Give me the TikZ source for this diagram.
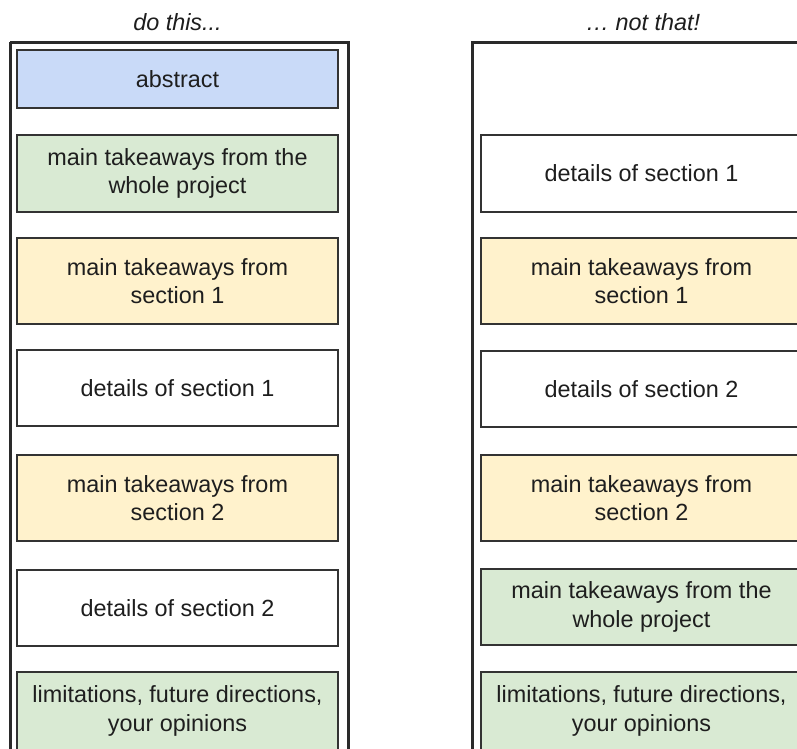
\documentclass[tikz,border=0pt]{standalone}
\usepackage{fontspec}
\setmainfont{Liberation Sans}
\definecolor{blueF}{HTML}{C9DAF8}
\definecolor{greenF}{HTML}{D9EAD3}
\definecolor{yellowF}{HTML}{FFF2CC}
\definecolor{lineC}{HTML}{333333}
\definecolor{frameC}{HTML}{2A2A2A}
\definecolor{txtC}{HTML}{1E1E1E}
\begin{document}
\begin{tikzpicture}[x=1pt,y=-1pt,
  box/.style={draw=lineC, line width=1.5pt, rectangle, minimum width=321pt, inner sep=0pt, align=center, text=txtC, font=\fontsize{23.4}{28.5}\selectfont},
  frame/.style={draw=frameC, line width=3pt},
  title/.style={font=\fontsize{23.4}{28}\selectfont\itshape, text=txtC, inner sep=0pt}]
\useasboundingbox (0,0) rectangle (797,748);
\clip (0,0) rectangle (797,748);
\fill[white] (0,0) rectangle (797,748);
% titles
\node[title] (t1) at (177.5,22) {do this...};
\node[title] (t2) at (643,22) {… not that!};
% frames
\draw[frame] (10,42) -- (348,42) -- (348,770) (10,770) -- (10,42);
\draw[frame] (472,770) -- (472,42) -- (820,42);
% left column
\node[box, fill=blueF, minimum height=58pt] (a1) at (177.5,79) {abstract};
\node[box, fill=greenF, minimum height=77pt] (a2) at (177.5,173.5) {main takeaways from the\\whole project};
\node[box, fill=yellowF, minimum height=86pt] (a3) at (177.5,281) {main takeaways from\\section 1};
\node[box, fill=white, minimum height=76pt] (a4) at (177.5,388) {details of section 1};
\node[box, fill=yellowF, minimum height=86pt] (a5) at (177.5,498) {main takeaways from\\section 2};
\node[box, fill=white, minimum height=76pt] (a6) at (177.5,608) {details of section 2};
\node[box, fill=greenF, minimum height=78pt] (a7) at (177.5,711) {limitations, future directions,\\your opinions};
% right column
\node[box, fill=white, minimum height=77pt] (b1) at (641.5,173.5) {details of section 1};
\node[box, fill=yellowF, minimum height=86pt] (b2) at (641.5,281) {main takeaways from\\section 1};
\node[box, fill=white, minimum height=76pt] (b3) at (641.5,389) {details of section 2};
\node[box, fill=yellowF, minimum height=86pt] (b4) at (641.5,498) {main takeaways from\\section 2};
\node[box, fill=greenF, minimum height=76pt] (b5) at (641.5,607) {main takeaways from the\\whole project};
\node[box, fill=greenF, minimum height=78pt] (b6) at (641.5,711) {limitations, future directions,\\your opinions};
\end{tikzpicture}
\end{document}
